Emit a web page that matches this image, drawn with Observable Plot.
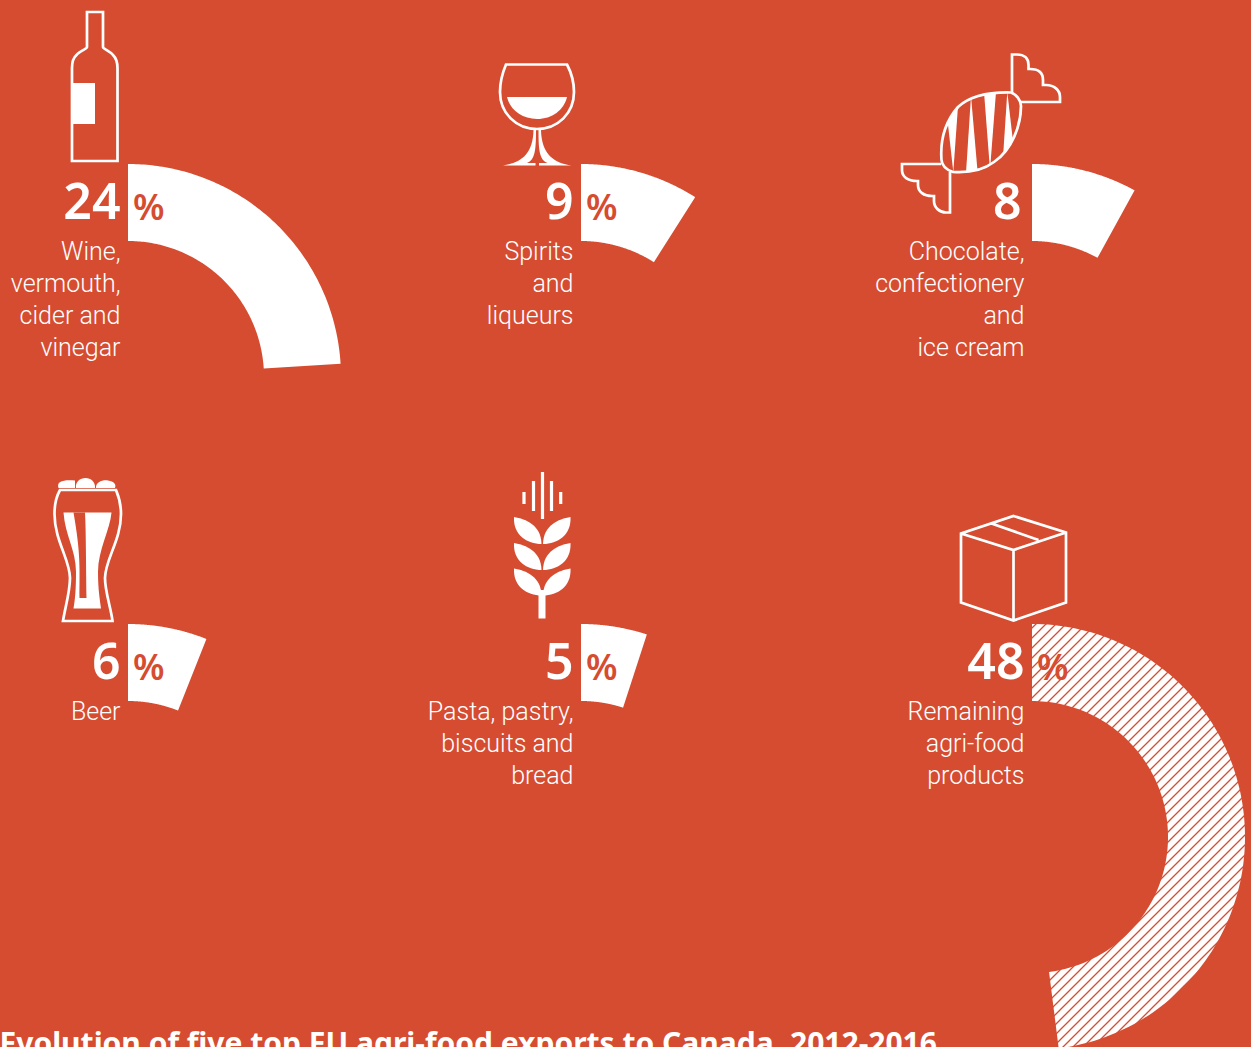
<!DOCTYPE html>
<html><head><meta charset="utf-8">
<script src="https://cdn.jsdelivr.net/npm/d3@7"></script>
<script src="https://cdn.jsdelivr.net/npm/@observablehq/plot@0.6"></script>
<style>html,body{margin:0;padding:0;background:#D64C31;overflow:hidden}svg{display:block;overflow:hidden}</style>
</head><body><div id="chart"></div>
<script>
// ---- data ----
const categories = [
  "Wine,\nvermouth,\ncider and\nvinegar",
  "Spirits\nand\nliqueurs",
  "Chocolate,\nconfectionery\nand\nice cream",
  "Beer",
  "Pasta, pastry,\nbiscuits and\nbread",
  "Remaining\nagri-food\nproducts"
];
const shares = [24, 9, 8, 6, 5, 48];
const title = "Evolution of five top EU agri-food exports to Canada, 2012-2016";

// ---- layout ----
const W = 1251, H = 1047, BG = "#D64C31", FONT = "'Noto Sans', sans-serif", LABEL_FONT = "Roboto, sans-serif";
const colX = [128, 581, 1032], rowY = [377, 837];
const R = 213, r = 136;
const items = categories.map((label, i) => ({
  label, share: shares[i],
  cx: colX[i % 3], cy: rowY[Math.floor(i / 3)], hatched: i === 5
}));
const arc = d => d3.range(0, 121).map(k => {
  const a = (k / 120) * (d.share / 100) * 2 * Math.PI;
  return {id: d.label, hatched: d.hatched,
    xi: d.cx + r * Math.sin(a), yi: d.cy - r * Math.cos(a),
    xo: d.cx + R * Math.sin(a), yo: d.cy - R * Math.cos(a)};
});
const arcs = items.flatMap(arc);

// ---- pictograms (decoration) ----
const svgNS = "http://www.w3.org/2000/svg";
const outline = [
  "M87 12H103V47C103 49 110 51 113 55C116 58 117.5 62 117.5 68V161H72V68C72 62 73 58 76.5 55C79.5 51 87 49 87 47Z",
  "M506 64.5H567C572 74 574 84 574 92C574 113 558 129 537 129C516 129 500 113 500 92C500 84 502 74 506 64.5Z",
  "M1021 102H1060V97C1060 90 1054 85 1046 85H1043V80C1043 72 1038 69 1030 69H1028.5V65C1028.5 58 1024 54.5 1017 54.5H1012V93",
  "M941 164H902V170C902 177 908 181 917 181H918V185C918 192 924 196 932 196H934V201C934 208 940 212.5 946 212.5H950V172",
  "M1011 92.5C1016 94 1021 100 1021 106C1021 125 1012 150 994 162C982 171 968 173 953 172C947 170 942 166 941.5 160C940 140 945 122 958 107C970 96 990 92 1011 92.5Z",
  "M60 490C56 497 54.5 505 54.5 514C54.5 540 70 560 70 578C70 592 65 608 63 621H112.5C111 608 105 592 105 578C105 560 121 540 121 514C121 505 119 497 116 490Z",
  "M1013.5 516L1066 532.5V602.5L1013.5 620.5L961 602.5V533.5ZM961 533.5L1013.5 550L1066 532.5M1013.5 550V620.5M991.5 523.5L1038.5 540"
];
const solid = [
  "M72 83H95V124H72Z",
  "M507 97H567C564 110 552 119 537 119C522 119 510 110 507 97Z",
  "M533.5 130H536C536 150 535 160 527 163H535.5V165.5H503C520 163 533 155 533.5 130Z",
  "M541 130H538.5C538.5 150 539.5 160 547.5 163H539V165.5H571.5C554.5 163 541.5 155 541 130Z",
  "M58.5 488C56 481 64 479.5 75 480.5C75 484 75 486 75 488Z",
  "M76 488C75 482 80 478 85.5 478C91 478 95.5 482 95 488Z",
  "M96 488C95.5 482 103 479.5 108 480.5C114 481.5 116.5 484 115 488Z",
  "M63.5 512.5H111.5C110 530 98 550 98 572C98 590 100 600 101 608.5H73.5C75 600 76 590 76 572C76 550 65 535 63.5 512.5Z",
  "M538.5 590H545.5V618.5H538.5Z"
];
const leaves = [517, 543, 568.5].flatMap(y => [
  `M514 ${y}C526 ${y+2} 541 ${y+8} 541.5 ${y+27}C527 ${y+27} 513 ${y+18} 514 ${y}Z`,
  `M570.5 ${y}C558.5 ${y+2} 543.5 ${y+8} 543 ${y+27}C557.5 ${y+27} 571.5 ${y+18} 570.5 ${y}Z`
]);
const wheatBars = [[524, 492, 504], [533.5, 481, 511], [542.5, 472, 519], [551.5, 481, 511], [560.7, 492, 504]];
const candyClip = outline[4];
const stripes = [
  "M953.3 172L946.7 113L958.3 102Z",
  "M971 96L966 173L977.7 173Z",
  "M990 170L984 92L996 92Z",
  "M1007.3 92L1002.7 162L1014 150Z"
];

function el(name, attrs, parent) {
  const e = document.createElementNS(svgNS, name);
  for (const k in attrs) e.setAttribute(k, attrs[k]);
  if (parent) parent.appendChild(e);
  return e;
}
function defsMark() {
  const g = el("g", {});
  const defs = el("defs", {}, g);
  const p = el("pattern", {id: "hatch", patternUnits: "userSpaceOnUse", width: 10, height: 10}, defs);
  el("rect", {width: 10, height: 10, fill: "#fff"}, p);
  el("path", {d: "M-1 1L1 -1M0 10L10 0M9 11L11 9", stroke: BG, "stroke-width": 1.3}, p);
  const c = el("clipPath", {id: "candy"}, defs);
  el("path", {d: candyClip}, c);
  return g;
}
function iconMark() {
  const g = el("g", {});
  outline.forEach(d => el("path", {d, fill: "none", stroke: "#fff", "stroke-width": 2.7, "stroke-linejoin": "miter"}, g));
  solid.concat(leaves).forEach(d => el("path", {d, fill: "#fff"}, g));
  el("path", {d: "M73.5 512.5H85C86 530 86 560 86.5 598H79.5C79.5 570 81 555 73.5 512.5Z", fill: BG}, g);
  stripes.forEach(d => el("path", {d, fill: "#fff", "clip-path": "url(#candy)"}, g));
  wheatBars.forEach(([x, a, b]) => el("rect", {x: x - 1.6, y: a, width: 3.2, height: b - a, fill: "#fff"}, g));
  return g;
}

const textTop = (baseline, fs) => baseline - 0.71 * fs;
const chart = Plot.plot({
  width: W, height: H, margin: 0,
  style: {background: BG, overflow: "hidden"},
  x: {type: "linear", domain: [0, W], range: [0, W], axis: null},
  y: {type: "linear", domain: [0, H], range: [0, H], axis: null},
  marks: [
    defsMark,
    Plot.area(arcs.filter(d => !d.hatched), {x1: "xi", y1: "yi", x2: "xo", y2: "yo", z: "id", fill: "#fff"}),
    Plot.area(arcs.filter(d => d.hatched), {x1: "xi", y1: "yi", x2: "xo", y2: "yo", z: "id", fill: "url(#hatch)"}),
    iconMark,
    Plot.text(items, {x: d => d.cx - (d.share === 8 ? 11 : 8), y: d => textTop(d.cy - 158.5, 50), text: d => String(d.share),
      textAnchor: "end", lineAnchor: "top", fontSize: 50, fontWeight: 600, fontFamily: FONT, fill: "#fff"}),
    Plot.text(items.filter(d => d.share !== 8), {x: d => d.cx + 4.5, y: d => textTop(d.cy - 157.5, 36), text: () => "%",
      textAnchor: "start", lineAnchor: "top", fontSize: 36, fontWeight: 600, fontFamily: FONT, fill: BG}),
    Plot.text(items, {x: d => d.cx - 8, y: d => textTop(d.cy - 117, 25), dy: -5, text: "label",
      textAnchor: "end", lineAnchor: "top", lineHeight: 32 / 25, fontSize: 25, fontWeight: 300, fontFamily: LABEL_FONT, fill: "#fff"}),
    Plot.text([title], {x: () => -1, y: () => textTop(1053.5, 30), text: d => d,
      textAnchor: "start", lineAnchor: "top", fontSize: 30, fontWeight: 700, fontFamily: FONT, fill: "#fff"})
  ]
});
document.getElementById("chart").appendChild(chart);
</script>
</body></html>
